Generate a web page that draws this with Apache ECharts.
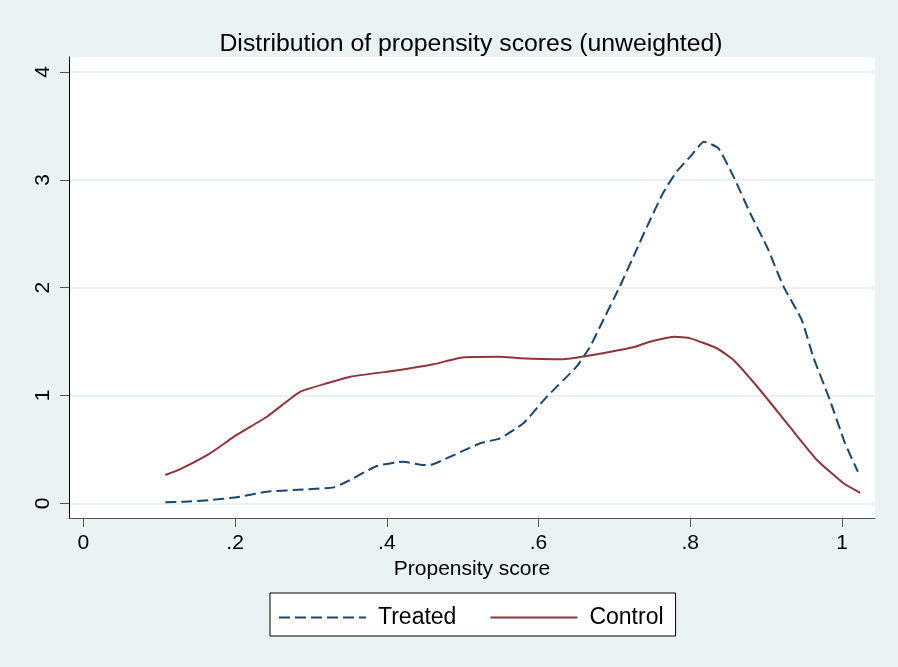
<!DOCTYPE html>
<html>
<head>
<meta charset="utf-8">
<script src="https://cdn.jsdelivr.net/npm/echarts@6/dist/echarts.min.js"></script>
<style>
html,body{margin:0;padding:0;background:#eaf2f3;}
#chart{width:898px;height:667px;}
</style>
</head>
<body>
<div id="chart"></div>
<script>
const titleText = 'Distribution of propensity scores (unweighted)';
const xAxisName = 'Propensity score';
const xTickValues = [0, 0.2, 0.4, 0.6, 0.8, 1];
const xTickLabels = ['0', '.2', '.4', '.6', '.8', '1'];
const yTickValues = [0, 1, 2, 3, 4];
const yTickLabels = ['0', '1', '2', '3', '4'];
const seriesNames = ['Treated', 'Control'];

const treatedX = [0.108, 0.134, 0.167, 0.202, 0.242, 0.294, 0.33, 0.347, 0.387, 0.422, 0.448, 0.461, 0.523, 0.549, 0.58, 0.611, 0.650, 0.668, 0.681, 0.707, 0.729, 0.743, 0.764, 0.782, 0.8, 0.818, 0.837, 0.857, 0.879, 0.901, 0.923, 0.947, 0.962, 0.984, 1.004, 1.021];
const treatedY = [0.01, 0.015, 0.03, 0.056, 0.108, 0.13, 0.148, 0.2, 0.346, 0.386, 0.355, 0.362, 0.557, 0.603, 0.742, 0.989, 1.267, 1.453, 1.638, 2.009, 2.35, 2.566, 2.876, 3.076, 3.215, 3.354, 3.293, 3.03, 2.69, 2.38, 2.009, 1.70, 1.36, 0.958, 0.557, 0.293];

const controlX = [0.108, 0.127, 0.167, 0.202, 0.242, 0.286, 0.321, 0.352, 0.417, 0.461, 0.501, 0.549, 0.576, 0.631, 0.663, 0.725, 0.747, 0.780, 0.8, 0.835, 0.857, 0.892, 0.931, 0.967, 1.002, 1.024];
const controlY = [0.263, 0.315, 0.464, 0.634, 0.803, 1.035, 1.113, 1.174, 1.236, 1.289, 1.354, 1.36, 1.345, 1.336, 1.366, 1.447, 1.499, 1.545, 1.530, 1.438, 1.329, 1.051, 0.711, 0.402, 0.186, 0.098];

const zip = (xs, ys) => xs.map((x, i) => [x, ys[i]]);
const FONT = 'Liberation Sans, Arial, sans-serif';

const chart = echarts.init(document.getElementById('chart'), null, {renderer: 'canvas'});
chart.setOption({
  backgroundColor: '#eaf2f3',
  animation: false,
  title: {
    text: titleText,
    left: 466,
    textAlign: 'center',
    top: 27,
    textStyle: {fontFamily: FONT, fontSize: 24.8, fontWeight: 'normal', color: '#000'}
  },
  grid: {
    left: 69, top: 57, right: 23, bottom: 149,
    show: true, backgroundColor: '#ffffff', borderWidth: 0
  },
  legend: {
    left: 270, top: 593,
    padding: [13, 12, 7, 8],
    itemWidth: 87, itemHeight: 14, itemGap: 33,
    backgroundColor: '#ffffff', borderColor: '#000', borderWidth: 1,
    itemStyle: {opacity: 0},
    textStyle: {fontFamily: FONT, fontSize: 23, color: '#000', padding: [0, 0, 0, 7]},
    data: seriesNames
  },
  xAxis: {
    type: 'value',
    min: -0.0189, max: 1.0435,
    name: xAxisName,
    nameLocation: 'middle',
    nameGap: 38,
    nameTextStyle: {fontFamily: FONT, fontSize: 21, color: '#000'},
    axisLine: {show: true, onZero: false, lineStyle: {color: '#555', width: 1}},
    axisTick: {show: true, length: 9, customValues: xTickValues, lineStyle: {color: '#555'}},
    axisLabel: {
      fontFamily: FONT, fontSize: 21, color: '#000', margin: 15,
      customValues: xTickValues,
      formatter: v => { const i = xTickValues.findIndex(t => Math.abs(t - v) < 1e-9); return i >= 0 ? xTickLabels[i] : ''; }
    },
    splitLine: {show: false}
  },
  yAxis: {
    type: 'value',
    min: -0.136, max: 4.139,
    axisLine: {show: true, onZero: false, lineStyle: {color: '#000', width: 1}},
    axisTick: {show: true, length: 9, customValues: yTickValues, lineStyle: {color: '#555'}},
    axisLabel: {
      fontFamily: FONT, fontSize: 21, color: '#000', margin: 15, rotate: 90,
      customValues: yTickValues,
      formatter: v => { const i = yTickValues.findIndex(t => Math.abs(t - v) < 1e-9); return i >= 0 ? yTickLabels[i] : ''; }
    },
    splitLine: {show: true, lineStyle: {color: '#eaf2f3', width: 2}}
  },
  series: [
    {
      name: seriesNames[0], type: 'line', symbol: 'none', smooth: 0.15,
      data: zip(treatedX, treatedY),
      lineStyle: {color: '#1a476f', width: 2, type: [11, 5]},
      itemStyle: {color: '#1a476f'}
    },
    {
      name: seriesNames[1], type: 'line', symbol: 'none', smooth: 0.15,
      data: zip(controlX, controlY),
      lineStyle: {color: '#90353b', width: 2, type: 'solid'},
      itemStyle: {color: '#90353b'}
    }
  ]
});
</script>
</body>
</html>
